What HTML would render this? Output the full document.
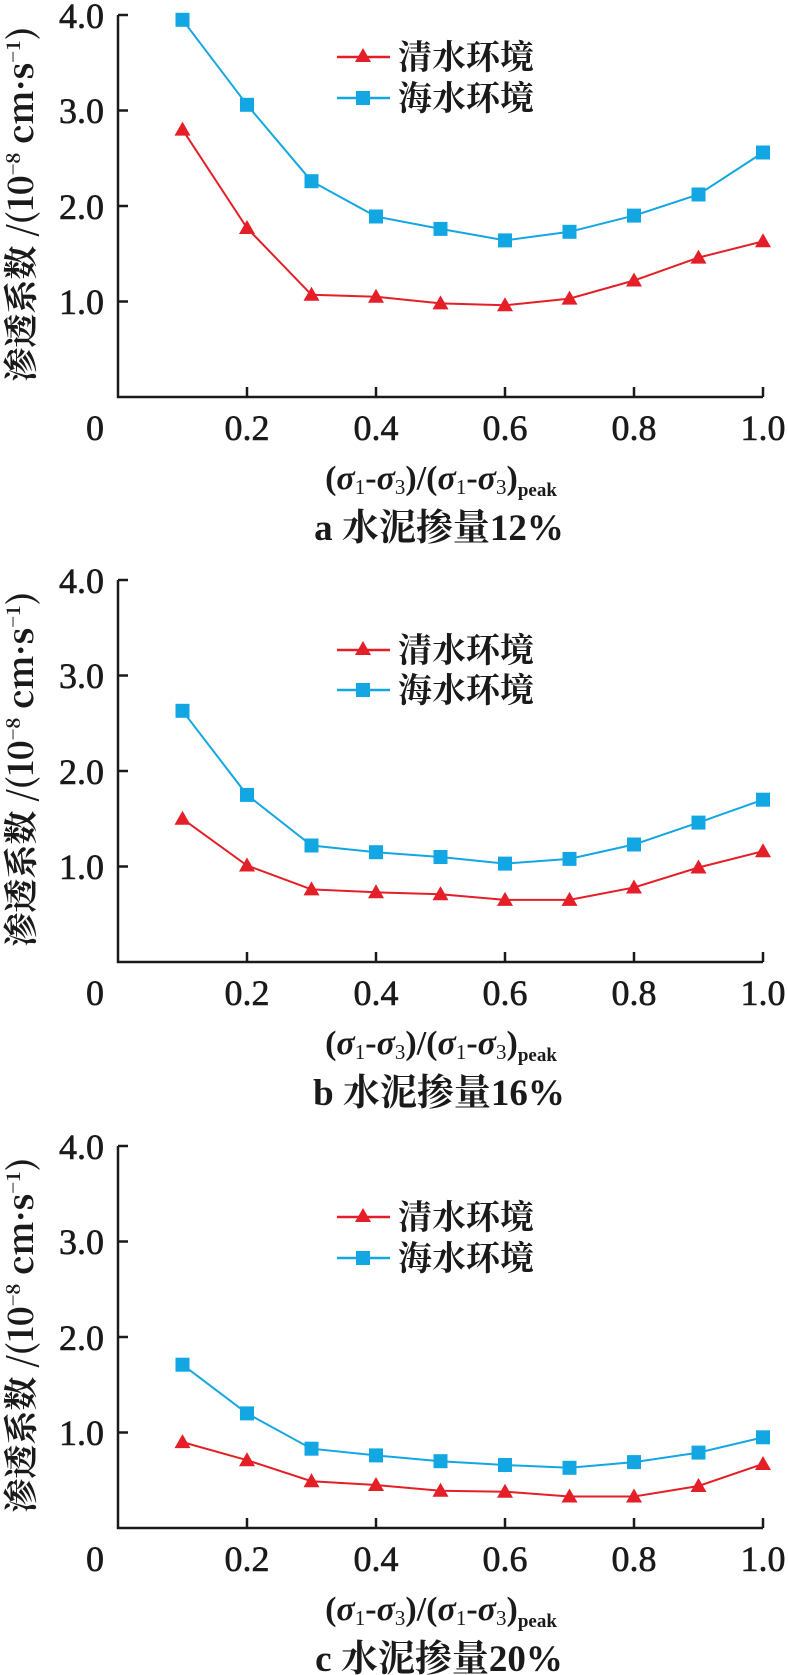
<!DOCTYPE html>
<html><head><meta charset="utf-8"><style>
html,body{margin:0;padding:0;background:#fff}
svg{display:block}
.t{font-family:"Liberation Serif","Noto Serif CJK SC",serif;font-size:36px;fill:#1a1a1a;stroke:#1a1a1a;stroke-width:0.6}
.c{font-family:"Liberation Serif","Noto Serif CJK SC",serif;font-size:34px;fill:#1a1a1a;font-weight:bold}
.cap{font-family:"Liberation Serif","Noto Serif CJK SC",serif;font-size:37px;fill:#1a1a1a;font-weight:bold}
.l{font-family:"Noto Serif CJK SC","Noto Sans CJK SC",serif;font-size:34px;fill:#1a1a1a;font-weight:bold}
</style></head><body>
<svg width="788" height="1675" viewBox="0 0 788 1675" xmlns="http://www.w3.org/2000/svg">
<defs>
<g id="axes">
<path d="M118,15 V397 H763" fill="none" stroke="#1a1a1a" stroke-width="2.5"/>
<path d="M118,15 h10 M118,110.5 h10 M118,206 h10 M118,301.5 h10 M247,397 v-10 M376,397 v-10 M505,397 v-10 M634,397 v-10 M763,397 v-10" stroke="#1a1a1a" stroke-width="2.5"/>
<g class="t" text-anchor="end">
<text x="104" y="28">4.0</text><text x="104" y="123">3.0</text><text x="104" y="219">2.0</text><text x="104" y="314">1.0</text>
</g>
<g class="t" text-anchor="middle">
<text x="95" y="440">0</text><text x="247" y="440">0.2</text><text x="376" y="440">0.4</text><text x="505" y="440">0.6</text><text x="634" y="440">0.8</text><text x="763" y="440">1.0</text>
</g>
<text class="c" x="441" y="489" text-anchor="middle">(<tspan font-style="italic">σ</tspan><tspan font-size="21" font-weight="normal" dy="5">1</tspan><tspan dy="-5">-</tspan><tspan font-style="italic">σ</tspan><tspan font-size="21" font-weight="normal" dy="5">3</tspan><tspan dy="-5">)/(</tspan><tspan font-style="italic">σ</tspan><tspan font-size="21" font-weight="normal" dy="5">1</tspan><tspan dy="-5">-</tspan><tspan font-style="italic">σ</tspan><tspan font-size="21" font-weight="normal" dy="5">3</tspan><tspan dy="-5">)</tspan><tspan font-size="19" dy="7">peak</tspan></text>
<text class="l" transform="translate(33,204) rotate(-90)" text-anchor="middle">渗透系数 /(10<tspan font-size="19" dy="-13">−8</tspan><tspan dy="13"> cm·s</tspan><tspan font-size="19" dy="-13">−1</tspan><tspan dy="13">)</tspan></text>
</g>
<path id="tri" d="M0,-8 L8,6 L-8,6 Z" fill="#e41f28"/>
<rect id="sq" x="-7" y="-7" width="14" height="14" fill="#12a7e2"/>
</defs>

<!-- Panel a -->
<g>
<use href="#axes"/>
<text class="cap" x="439" y="540" text-anchor="middle">a  水泥掺量12%</text>
<line x1="337" y1="57" x2="390" y2="57" stroke="#e41f28" stroke-width="2.5"/><use href="#tri" x="363" y="56"/>
<line x1="337" y1="98" x2="390" y2="98" stroke="#12a7e2" stroke-width="2.5"/><use href="#sq" x="363" y="98"/>
<text class="l" x="398" y="69">清水环境</text><text class="l" x="398" y="110">海水环境</text>
<polyline fill="none" stroke="#12a7e2" stroke-width="2" points="182.5,19.8 247,104.8 311.5,181.2 376,216.5 440.5,228.9 505,240.4 569.5,231.8 634,215.6 698.5,194.5 763,152.5"/>
<polyline fill="none" stroke="#e41f28" stroke-width="2" points="182.5,129.6 247,228 311.5,294.8 376,296.7 440.5,303.4 505,305.3 569.5,298.6 634,280.5 698.5,257.6 763,241.3"/>
<g><use href="#sq" x="182.5" y="19.8"/><use href="#sq" x="247" y="104.8"/><use href="#sq" x="311.5" y="181.2"/><use href="#sq" x="376" y="216.5"/><use href="#sq" x="440.5" y="228.9"/><use href="#sq" x="505" y="240.4"/><use href="#sq" x="569.5" y="231.8"/><use href="#sq" x="634" y="215.6"/><use href="#sq" x="698.5" y="194.5"/><use href="#sq" x="763" y="152.5"/></g>
<g><use href="#tri" x="182.5" y="129.6"/><use href="#tri" x="247" y="228"/><use href="#tri" x="311.5" y="294.8"/><use href="#tri" x="376" y="296.7"/><use href="#tri" x="440.5" y="303.4"/><use href="#tri" x="505" y="305.3"/><use href="#tri" x="569.5" y="298.6"/><use href="#tri" x="634" y="280.5"/><use href="#tri" x="698.5" y="257.6"/><use href="#tri" x="763" y="241.3"/></g>
</g>

<!-- Panel b -->
<g transform="translate(0,565)">
<use href="#axes"/>
<text class="cap" x="439" y="540" text-anchor="middle">b  水泥掺量16%</text>
<line x1="337" y1="85" x2="390" y2="85" stroke="#e41f28" stroke-width="2.5"/><use href="#tri" x="363" y="84"/>
<line x1="337" y1="125" x2="390" y2="125" stroke="#12a7e2" stroke-width="2.5"/><use href="#sq" x="363" y="125"/>
<text class="l" x="398" y="97">清水环境</text><text class="l" x="398" y="137">海水环境</text>
<polyline fill="none" stroke="#12a7e2" stroke-width="2" points="182.5,145.8 247,229.9 311.5,280.5 376,287.2 440.5,292 505,298.6 569.5,293.9 634,279.5 698.5,257.6 763,234.7"/>
<polyline fill="none" stroke="#e41f28" stroke-width="2" points="182.5,253.8 247,300.5 311.5,324.4 376,327.3 440.5,329.2 505,334.9 569.5,334.9 634,322.5 698.5,302.5 763,286.2"/>
<g><use href="#sq" x="182.5" y="145.8"/><use href="#sq" x="247" y="229.9"/><use href="#sq" x="311.5" y="280.5"/><use href="#sq" x="376" y="287.2"/><use href="#sq" x="440.5" y="292"/><use href="#sq" x="505" y="298.6"/><use href="#sq" x="569.5" y="293.9"/><use href="#sq" x="634" y="279.5"/><use href="#sq" x="698.5" y="257.6"/><use href="#sq" x="763" y="234.7"/></g>
<g><use href="#tri" x="182.5" y="253.8"/><use href="#tri" x="247" y="300.5"/><use href="#tri" x="311.5" y="324.4"/><use href="#tri" x="376" y="327.3"/><use href="#tri" x="440.5" y="329.2"/><use href="#tri" x="505" y="334.9"/><use href="#tri" x="569.5" y="334.9"/><use href="#tri" x="634" y="322.5"/><use href="#tri" x="698.5" y="302.5"/><use href="#tri" x="763" y="286.2"/></g>
</g>

<!-- Panel c -->
<g transform="translate(0,1131)">
<use href="#axes"/>
<text class="cap" x="439" y="540" text-anchor="middle">c  水泥掺量20%</text>
<line x1="337" y1="86" x2="390" y2="86" stroke="#e41f28" stroke-width="2.5"/><use href="#tri" x="363" y="85"/>
<line x1="337" y1="127" x2="390" y2="127" stroke="#12a7e2" stroke-width="2.5"/><use href="#sq" x="363" y="127"/>
<text class="l" x="398" y="98">清水环境</text><text class="l" x="398" y="139">海水环境</text>
<polyline fill="none" stroke="#12a7e2" stroke-width="2" points="182.5,233.7 247,282.4 311.5,317.7 376,324.4 440.5,330.2 505,334 569.5,336.8 634,331.1 698.5,321.6 763,306.3"/>
<polyline fill="none" stroke="#e41f28" stroke-width="2" points="182.5,311.1 247,329.2 311.5,350.2 376,354 440.5,359.8 505,360.7 569.5,365.5 634,365.5 698.5,355 763,333"/>
<g><use href="#sq" x="182.5" y="233.7"/><use href="#sq" x="247" y="282.4"/><use href="#sq" x="311.5" y="317.7"/><use href="#sq" x="376" y="324.4"/><use href="#sq" x="440.5" y="330.2"/><use href="#sq" x="505" y="334"/><use href="#sq" x="569.5" y="336.8"/><use href="#sq" x="634" y="331.1"/><use href="#sq" x="698.5" y="321.6"/><use href="#sq" x="763" y="306.3"/></g>
<g><use href="#tri" x="182.5" y="311.1"/><use href="#tri" x="247" y="329.2"/><use href="#tri" x="311.5" y="350.2"/><use href="#tri" x="376" y="354"/><use href="#tri" x="440.5" y="359.8"/><use href="#tri" x="505" y="360.7"/><use href="#tri" x="569.5" y="365.5"/><use href="#tri" x="634" y="365.5"/><use href="#tri" x="698.5" y="355"/><use href="#tri" x="763" y="333"/></g>
</g>
</svg>
</body></html>
